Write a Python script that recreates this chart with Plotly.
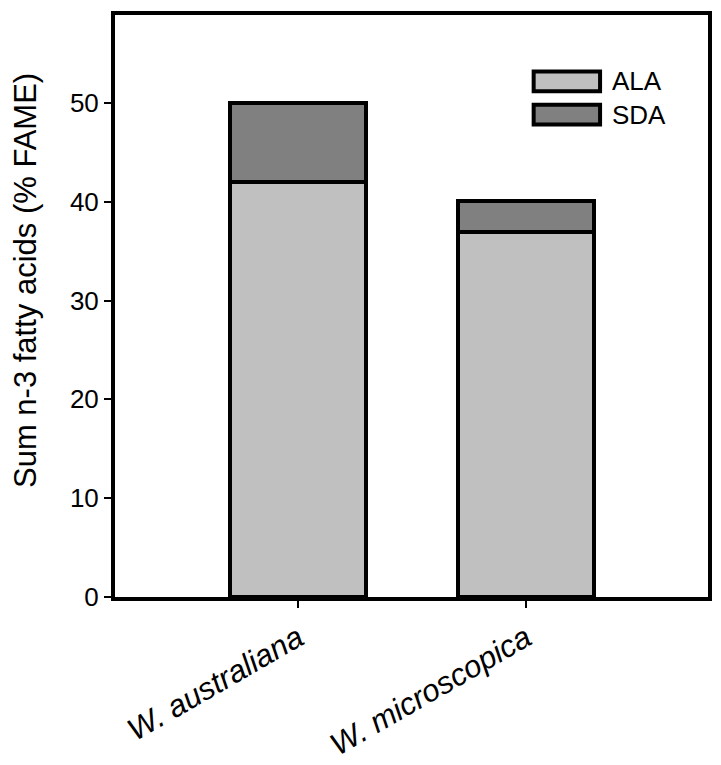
import plotly.graph_objects as go

categories = ["W. australiana", "W. microscopica"]
tick_labels = ["<i>W. australiana</i>", "<i>W. microscopica</i>"]
ala = [42.0, 36.9]
sda = [8.0, 3.2]
series_names = ["ALA", "SDA"]
y_ticks = [0, 10, 20, 30, 40, 50]
y_title = "Sum n-3 fatty acids (% FAME)"

FONT = "Liberation Sans, Arial, sans-serif"
colors = ["#c0c0c0", "#808080"]

fig = go.Figure()
for name, vals, col in zip(series_names, [ala, sda], colors):
    fig.add_trace(go.Bar(
        x=[0, 1], y=vals, name=name, width=0.6,
        marker=dict(color=col, line=dict(color="black", width=4)),
        showlegend=False,
    ))

# legend drawn manually to match the large swatches
leg_y = [(0.903, 0.869), (0.846, 0.812)]
for (y1, y0), name, col in zip(leg_y, series_names, colors):
    fig.add_shape(type="rect", xref="paper", yref="paper",
                  x0=0.706, x1=0.818, y0=y0, y1=y1,
                  fillcolor=col, line=dict(color="black", width=4))
    fig.add_annotation(xref="paper", yref="paper", x=0.834, y=(y0 + y1) / 2,
                       text=name, showarrow=False, xanchor="left", yanchor="middle",
                       font=dict(family=FONT, size=26, color="black"))

# y-axis title as a rotated annotation
fig.add_annotation(xref="paper", yref="paper", x=-0.150, y=0.543, text=y_title,
                   textangle=-90, showarrow=False, xanchor="center", yanchor="middle",
                   borderpad=0,
                   font=dict(family=FONT, size=31, color="black"))

# page body has an 8px margin, so the figure is shifted; compensate
fig.update_layout(
    width=713, height=757,
    margin=dict(l=107, r=13, t=3, b=164),
    barmode="stack",
    plot_bgcolor="white", paper_bgcolor="white",
    font=dict(family=FONT, color="black", size=26),
)
fig.update_xaxes(
    range=[-0.803, 1.798], tickmode="array", tickvals=[0, 1], ticktext=tick_labels,
    tickangle=-30, ticks="outside", ticklen=7, tickwidth=1.5, tickcolor="black",
    showline=True, linewidth=4, linecolor="black", mirror=True,
    showgrid=False, zeroline=False, tickfont=dict(size=31),
)
fig.update_yaxes(
    range=[0, 58.9], tickmode="array", tickvals=y_ticks,
    ticks="outside", ticklen=7, tickwidth=1.5, tickcolor="black",
    showline=True, linewidth=4, linecolor="black", mirror=True,
    showgrid=False, zeroline=False, tickfont=dict(size=26),
)
fig.write_html("out.html")
